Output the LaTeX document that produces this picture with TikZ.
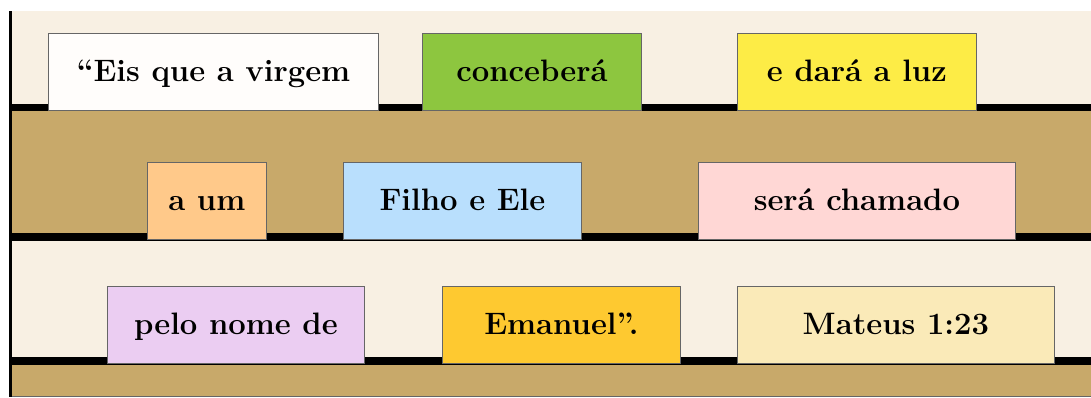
\documentclass[tikz,border=0pt]{standalone}
\usepackage{fontspec}
\usepackage{tikz}

\definecolor{cream}{HTML}{F8F0E3}
\definecolor{tan}{HTML}{C8A96A}
\definecolor{cardwhite}{HTML}{FFFDFB}
\definecolor{cardgreen}{HTML}{8DC63F}
\definecolor{cardyellow}{HTML}{FDEC46}
\definecolor{cardorange}{HTML}{FFC98A}
\definecolor{cardblue}{HTML}{B9DFFD}
\definecolor{cardpink}{HTML}{FFD7D5}
\definecolor{cardpurple}{HTML}{EBCDF2}
\definecolor{cardamber}{HTML}{FEC930}
\definecolor{cardcream}{HTML}{FAEAB8}

\begin{document}
\begin{tikzpicture}[x=1pt,y=-1pt,
    card/.style={draw=black!60, line width=0.8pt, anchor=north west,
        minimum height=77pt, inner sep=0pt, text height=25pt, text depth=5pt,
        font=\fontsize{31}{36}\selectfont\bfseries}]
    \useasboundingbox (0,0) rectangle (1091,398);

    % Background bands
    \fill[white] (0,0) rectangle (1091,398);
    \fill[cream] (12,11) rectangle (1091,104);
    \fill[tan] (12,111) rectangle (1091,233);
    \fill[cream] (12,241) rectangle (1091,357);
    \fill[tan] (12,365) rectangle (1091,396);

    % Shelf lines
    \fill[black] (12,104) rectangle (1091,111);
    \fill[black] (12,233) rectangle (1091,241);
    \fill[black] (12,357) rectangle (1091,365);
    \fill[black] (9,11) rectangle (12,397);
    \draw[black!60, line width=0.8pt] (12,396.5) -- (1091,396.5);

    % First row
    \node[card, fill=cardwhite, minimum width=330pt] (eis) at (48,33) {“Eis que a virgem};
    \node[card, fill=cardgreen, minimum width=219pt] (concebera) at (422,33) {conceberá};
    \node[card, fill=cardyellow, minimum width=239pt] (luz) at (737,33) {e dará a luz};

    % Second row
    \node[card, fill=cardorange, minimum width=119pt] (um) at (147,162) {a um};
    \node[card, fill=cardblue, minimum width=238pt] (filho) at (343,162) {Filho e Ele};
    \node[card, fill=cardpink, minimum width=317pt] (chamado) at (698,162) {será chamado};

    % Third row
    \node[card, fill=cardpurple, minimum width=257pt] (nome) at (107,286) {pelo nome de};
    \node[card, fill=cardamber, minimum width=238pt] (emanuel) at (442,286) {Emanuel".};
    \node[card, fill=cardcream, minimum width=317pt] (mateus) at (737,286) {Mateus 1:23};
\end{tikzpicture}
\end{document}
